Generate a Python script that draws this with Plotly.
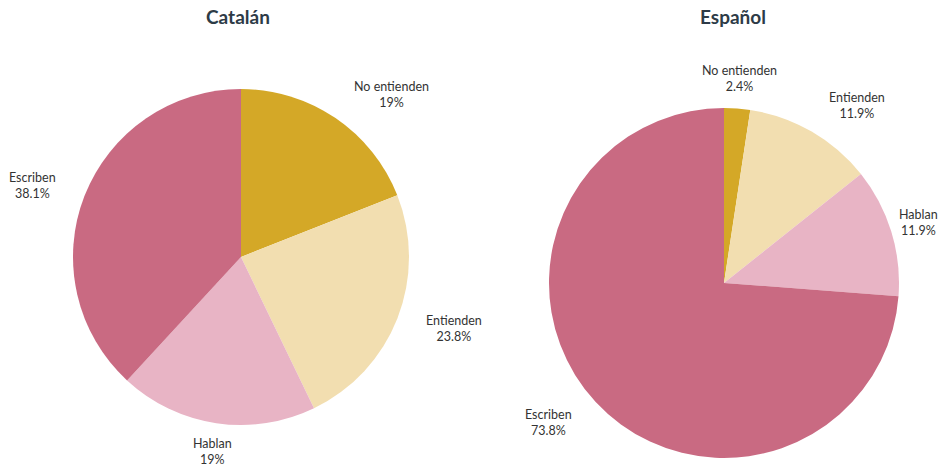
import math
import plotly.graph_objects as go

W, H = 942, 466

categories = ["No entienden", "Entienden", "Hablan", "Escriben"]
catalan_pct = [19, 23.8, 19, 38.1]
espanol_pct = [2.4, 11.9, 11.9, 73.8]
titles = ["Catalán", "Español"]

colors = ["#D4A827", "#F2DEB0", "#E8B4C5", "#C96A82"]
LABEL_SIZE = 12.5
label_font = dict(family="Lato, sans-serif", size=LABEL_SIZE, color="#333333")
title_font = dict(family="Lato, sans-serif", size=19, color="#2D3B47")

# pixel boxes for the two pies: (left, top, size)
pie_boxes = [(73, 89, 336), (549, 108, 350)]
title_x = [238, 733]
LABEL_RADIUS = 1.17  # label anchor distance, as a multiple of the pie radius
EDGE_PAD = 2


def px_domain(left, top, size):
    """Square domain in paper coords from a pixel box."""
    return dict(
        x=[left / W, (left + size) / W],
        y=[(H - top - size) / H, (H - top) / H],
    )


def text_width(lines):
    """Rough rendered width of a multi-line label."""
    return max(len(s) for s in lines) * LABEL_SIZE * 0.5


fig = go.Figure()

for values, box in zip([catalan_pct, espanol_pct], pie_boxes):
    fig.add_trace(go.Pie(
        labels=categories,
        values=values,
        sort=False,
        direction="clockwise",
        rotation=0,
        marker=dict(colors=colors, line=dict(width=0)),
        textinfo="none",
        hoverinfo="skip",
        showlegend=False,
        domain=px_domain(*box),
    ))

    # outside labels: anchored along each slice's mid-angle
    left, top, size = box
    cx, cy, r = left + size / 2, top + size / 2, size / 2
    total = sum(values)
    cum = 0.0
    for lab, v in zip(categories, values):
        mid = (cum + v / 2) / total * 2 * math.pi
        cum += v
        ux, uy = math.sin(mid), -math.cos(mid)
        d = r * LABEL_RADIUS
        px, py = cx + d * ux, cy + d * uy
        lines = [lab, f"{v}%"]
        w = text_width(lines)
        if ux > 0.3:
            xanchor = "left"
            if px + w > W - EDGE_PAD:
                px, xanchor = W - EDGE_PAD, "right"
        elif ux < -0.3:
            xanchor = "right"
            if px - w < EDGE_PAD:
                px, xanchor = EDGE_PAD, "left"
        else:
            xanchor = "center"
        fig.add_annotation(
            text="<br>".join(lines),
            x=px / W, y=1 - py / H, xref="paper", yref="paper",
            xanchor=xanchor, yanchor="middle", align="center",
            showarrow=False, font=label_font,
        )

for text, xc in zip(titles, title_x):
    fig.add_annotation(
        text=f"<b>{text}</b>", x=xc / W, y=1 - 17 / H,
        xref="paper", yref="paper", xanchor="center", yanchor="middle",
        showarrow=False, font=title_font,
    )

fig.update_layout(
    width=W, height=H,
    margin=dict(l=0, r=0, t=0, b=0),
    paper_bgcolor="white",
    plot_bgcolor="white",
)

fig.write_html("out.html")
